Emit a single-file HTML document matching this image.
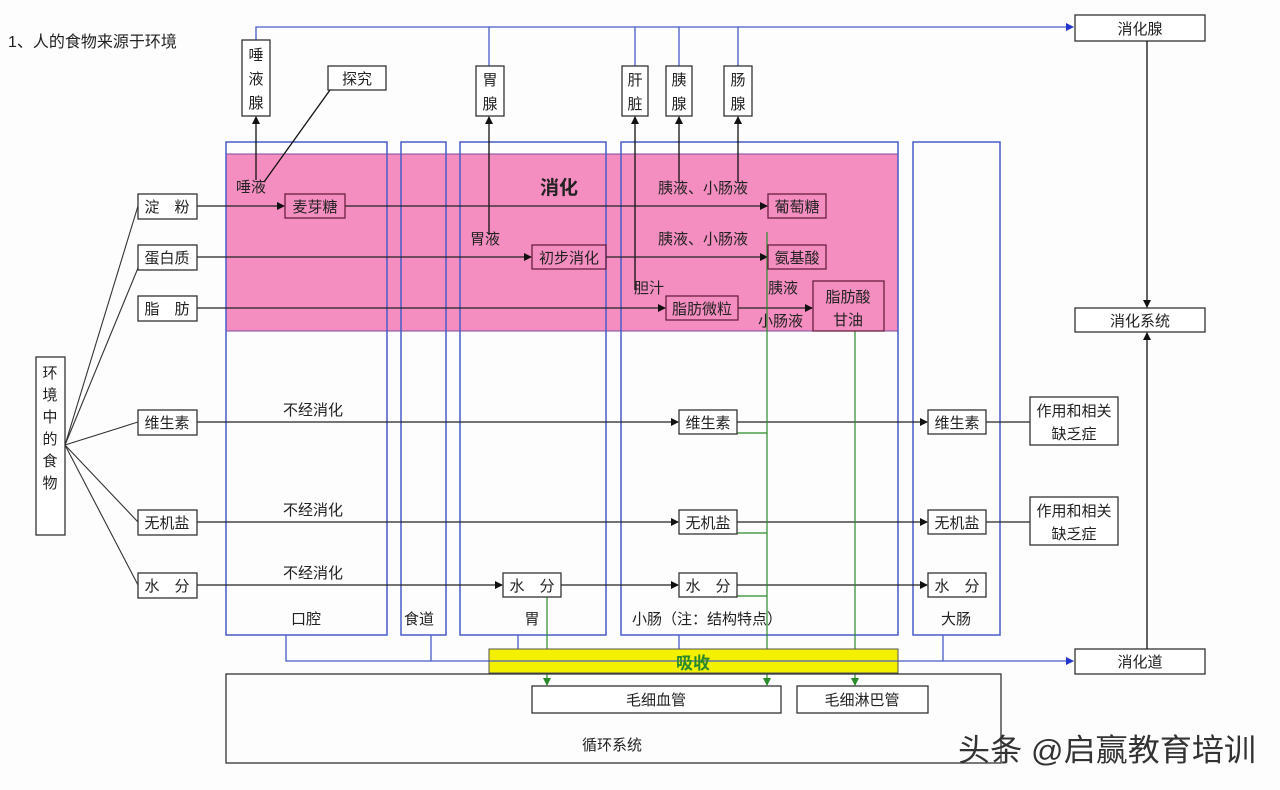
<!DOCTYPE html>
<html><head><meta charset="utf-8"><style>
html,body{margin:0;padding:0;background:#fdfdfd}
svg{display:block}
text{font-family:"Liberation Sans","Noto Sans CJK SC",sans-serif;font-size:15px;fill:#222}
</style></head><body>
<svg width="1280" height="790" viewBox="0 0 1280 790" xmlns="http://www.w3.org/2000/svg">
<defs>
<marker id="ab" markerWidth="8" markerHeight="8" refX="7" refY="4" orient="auto" markerUnits="userSpaceOnUse"><path d="M0,0L8,4L0,8z" fill="#111"/></marker>
<marker id="au" markerWidth="8" markerHeight="8" refX="7" refY="4" orient="auto" markerUnits="userSpaceOnUse"><path d="M0,0L8,4L0,8z" fill="#2233cc"/></marker>
<marker id="ag" markerWidth="8" markerHeight="8" refX="7" refY="4" orient="auto" markerUnits="userSpaceOnUse"><path d="M0,0L8,4L0,8z" fill="#2a8a2a"/></marker>
</defs>
<text x="8" y="47" style="font-size:16px">1、人的食物来源于环境</text>
<!-- pink -->
<rect x="226" y="154" width="672" height="177" fill="#f58ec0" stroke="#7a4a9a" stroke-width="1"/>
<!-- columns -->
<g fill="none" stroke="#4a5cc8" stroke-width="1.5">
<rect x="226" y="142" width="161" height="493"/>
<rect x="401" y="142" width="45" height="493"/>
<rect x="460" y="142" width="146" height="493"/>
<rect x="621" y="142" width="277" height="493"/>
<rect x="913" y="142" width="87" height="493"/>
</g>
<!-- top blue line -->
<g stroke="#4a5cc8" stroke-width="1.3" fill="none">
<polyline points="256,40 256,27 1073,27" marker-end="url(#au)"/>
<line x1="489" y1="27" x2="489" y2="66"/>
<line x1="635" y1="27" x2="635" y2="66"/>
<line x1="679" y1="27" x2="679" y2="66"/>
<line x1="738" y1="27" x2="738" y2="66"/>
<polyline points="286,635 286,661 489,661"/>
<line x1="431" y1="635" x2="431" y2="661"/>
<line x1="518" y1="635" x2="518" y2="661"/>
<line x1="679" y1="635" x2="679" y2="649"/>
<line x1="943" y1="635" x2="943" y2="661"/>
<line x1="898" y1="661" x2="1073" y2="661" marker-end="url(#au)"/>
</g>
<!-- glands -->
<g fill="#fff" stroke="#333" stroke-width="1.3">
<rect x="242" y="40" width="28" height="76"/>
<rect x="328" y="66" width="58" height="24"/>
<rect x="476" y="66" width="28" height="50"/>
<rect x="622" y="66" width="26" height="50"/>
<rect x="666" y="66" width="26" height="50"/>
<rect x="724" y="66" width="28" height="50"/>
</g>
<g text-anchor="middle">
<text x="256" y="60">唾</text><text x="256" y="84">液</text><text x="256" y="108">腺</text>
<text x="357" y="84">探究</text>
<text x="490" y="85">胃</text><text x="490" y="109">腺</text>
<text x="635" y="85">肝</text><text x="635" y="109">脏</text>
<text x="679" y="85">胰</text><text x="679" y="109">腺</text>
<text x="738" y="85">肠</text><text x="738" y="109">腺</text>
</g>
<g stroke="#111" stroke-width="1.3" fill="none">
<line x1="256" y1="180" x2="256" y2="117" marker-end="url(#ab)"/>
<line x1="330" y1="90" x2="264" y2="182"/>
<line x1="489" y1="235" x2="489" y2="117" marker-end="url(#ab)"/>
<line x1="635" y1="290" x2="635" y2="117" marker-end="url(#ab)"/>
<line x1="679" y1="182" x2="679" y2="117" marker-end="url(#ab)"/>
<line x1="738" y1="182" x2="738" y2="117" marker-end="url(#ab)"/>
</g>
<!-- right system boxes -->
<g fill="#fff" stroke="#333" stroke-width="1.3">
<rect x="1075" y="15" width="130" height="26"/>
<rect x="1075" y="308" width="130" height="24"/>
<rect x="1075" y="649" width="130" height="25"/>
</g>
<text x="1140" y="34" text-anchor="middle">消化腺</text>
<text x="1140" y="326" text-anchor="middle">消化系统</text>
<text x="1140" y="667" text-anchor="middle">消化道</text>
<g stroke="#111" stroke-width="1.3">
<line x1="1147" y1="41" x2="1147" y2="307" marker-end="url(#ab)"/>
<line x1="1147" y1="649" x2="1147" y2="333" marker-end="url(#ab)"/>
</g>
<!-- left env -->
<rect x="36" y="357" width="29" height="178" fill="#fff" stroke="#333" stroke-width="1.3"/>
<g text-anchor="middle"><text x="50" y="378">环</text><text x="50" y="400">境</text><text x="50" y="422">中</text><text x="50" y="444">的</text><text x="50" y="466">食</text><text x="50" y="488">物</text></g>
<g stroke="#333" stroke-width="1.1">
<line x1="65" y1="445" x2="138" y2="206"/><line x1="65" y1="445" x2="138" y2="268"/>
<line x1="65" y1="445" x2="138" y2="422"/><line x1="65" y1="445" x2="138" y2="522"/>
<line x1="65" y1="445" x2="138" y2="585"/>
</g>
<!-- row lines -->
<g stroke="#222" stroke-width="1.3" fill="none">
<line x1="197" y1="206" x2="284" y2="206" marker-end="url(#ab)"/>
<line x1="345" y1="206" x2="767" y2="206" marker-end="url(#ab)"/>
<line x1="197" y1="257" x2="531" y2="257" marker-end="url(#ab)"/>
<line x1="606" y1="257" x2="767" y2="257" marker-end="url(#ab)"/>
<line x1="197" y1="308" x2="665" y2="308" marker-end="url(#ab)"/>
<line x1="738" y1="308" x2="812" y2="308" marker-end="url(#ab)"/>
<line x1="197" y1="422" x2="678" y2="422" marker-end="url(#ab)"/>
<line x1="737" y1="422" x2="927" y2="422" marker-end="url(#ab)"/>
<line x1="986" y1="422" x2="1030" y2="422"/>
<line x1="197" y1="522" x2="678" y2="522" marker-end="url(#ab)"/>
<line x1="737" y1="522" x2="927" y2="522" marker-end="url(#ab)"/>
<line x1="986" y1="522" x2="1030" y2="522"/>
<line x1="197" y1="585" x2="502" y2="585" marker-end="url(#ab)"/>
<line x1="561" y1="585" x2="678" y2="585" marker-end="url(#ab)"/>
<line x1="737" y1="585" x2="927" y2="585" marker-end="url(#ab)"/>
</g>
<!-- green -->
<g stroke="#2a8a2a" stroke-width="1.2" fill="none">
<line x1="767" y1="232" x2="767" y2="685" marker-end="url(#ag)"/>
<line x1="855" y1="331" x2="855" y2="685" marker-end="url(#ag)"/>
<line x1="547" y1="597" x2="547" y2="685" marker-end="url(#ag)"/>
<polyline points="737,433 767,433"/><polyline points="737,533 767,533"/><polyline points="737,596 767,596"/>
</g>
<!-- boxes -->
<g fill="#fff" stroke="#333" stroke-width="1.3">
<rect x="138" y="194" width="59" height="25"/><rect x="138" y="245" width="59" height="25"/>
<rect x="138" y="296" width="59" height="25"/><rect x="138" y="410" width="59" height="25"/>
<rect x="138" y="510" width="59" height="25"/><rect x="138" y="573" width="59" height="25"/>
<rect x="503" y="573" width="58" height="24"/>
<rect x="679" y="410" width="58" height="24"/><rect x="679" y="510" width="58" height="24"/><rect x="679" y="573" width="58" height="24"/>
<rect x="928" y="410" width="58" height="24"/><rect x="928" y="510" width="58" height="24"/><rect x="928" y="573" width="58" height="24"/>
<rect x="1030" y="397" width="88" height="48"/><rect x="1030" y="497" width="88" height="48"/>
</g>
<g fill="none" stroke="#6a2040" stroke-width="1.3">
<rect x="285" y="194" width="60" height="24"/>
<rect x="532" y="245" width="74" height="24"/>
<rect x="768" y="194" width="58" height="24"/>
<rect x="768" y="245" width="58" height="24"/>
<rect x="666" y="296" width="72" height="24"/>
<rect x="813" y="281" width="71" height="50"/>
</g>
<g text-anchor="middle">
<text x="167" y="212">淀　粉</text><text x="167" y="263">蛋白质</text><text x="167" y="314">脂　肪</text>
<text x="167" y="428">维生素</text><text x="167" y="528">无机盐</text><text x="167" y="591">水　分</text>
<text x="315" y="212">麦芽糖</text><text x="569" y="263">初步消化</text>
<text x="797" y="212">葡萄糖</text><text x="797" y="263">氨基酸</text>
<text x="702" y="314">脂肪微粒</text><text x="848" y="302">脂肪酸</text><text x="848" y="325">甘油</text>
<text x="532" y="591">水　分</text>
<text x="708" y="428">维生素</text><text x="708" y="528">无机盐</text><text x="708" y="591">水　分</text>
<text x="957" y="428">维生素</text><text x="957" y="528">无机盐</text><text x="957" y="591">水　分</text>
<text x="1074" y="416">作用和相关</text><text x="1074" y="439">缺乏症</text>
<text x="1074" y="516">作用和相关</text><text x="1074" y="539">缺乏症</text>
<text x="313" y="415">不经消化</text><text x="313" y="515">不经消化</text><text x="313" y="578">不经消化</text>
<text x="306" y="624">口腔</text><text x="419" y="624">食道</text><text x="532" y="624">胃</text>
<text x="707" y="624">小肠（注：结构特点）</text><text x="956" y="624">大肠</text>
</g>
<g>
<text x="236" y="192">唾液</text>
<text x="540" y="194" style="font-size:19px;font-weight:bold">消化</text>
<text x="658" y="193">胰液、小肠液</text>
<text x="470" y="244">胃液</text>
<text x="658" y="244">胰液、小肠液</text>
<text x="634" y="293">胆汁</text>
<text x="768" y="293">胰液</text>
<text x="758" y="326">小肠液</text>
</g>
<!-- yellow -->
<rect x="489" y="649" width="409" height="24" fill="#f3f000" stroke="#555" stroke-width="1"/>
<line x1="489" y1="661" x2="898" y2="661" stroke="#4a5cc8" stroke-width="1.2"/>
<text x="693" y="669" text-anchor="middle" style="font-size:17px;fill:#2a8a2a;font-weight:bold">吸收</text>
<!-- circulation -->
<rect x="226" y="674" width="775" height="89" fill="none" stroke="#333" stroke-width="1.3"/>
<rect x="532" y="686" width="249" height="27" fill="#fff" stroke="#333" stroke-width="1.3"/>
<rect x="797" y="686" width="131" height="27" fill="#fff" stroke="#333" stroke-width="1.3"/>
<text x="656" y="705" text-anchor="middle">毛细血管</text>
<text x="862" y="705" text-anchor="middle">毛细淋巴管</text>
<text x="612" y="750" text-anchor="middle">循环系统</text>
<text x="958" y="761" style="font-size:31px;fill:#333" textLength="298" lengthAdjust="spacingAndGlyphs">头条 @启赢教育培训</text>
</svg>
</body></html>
